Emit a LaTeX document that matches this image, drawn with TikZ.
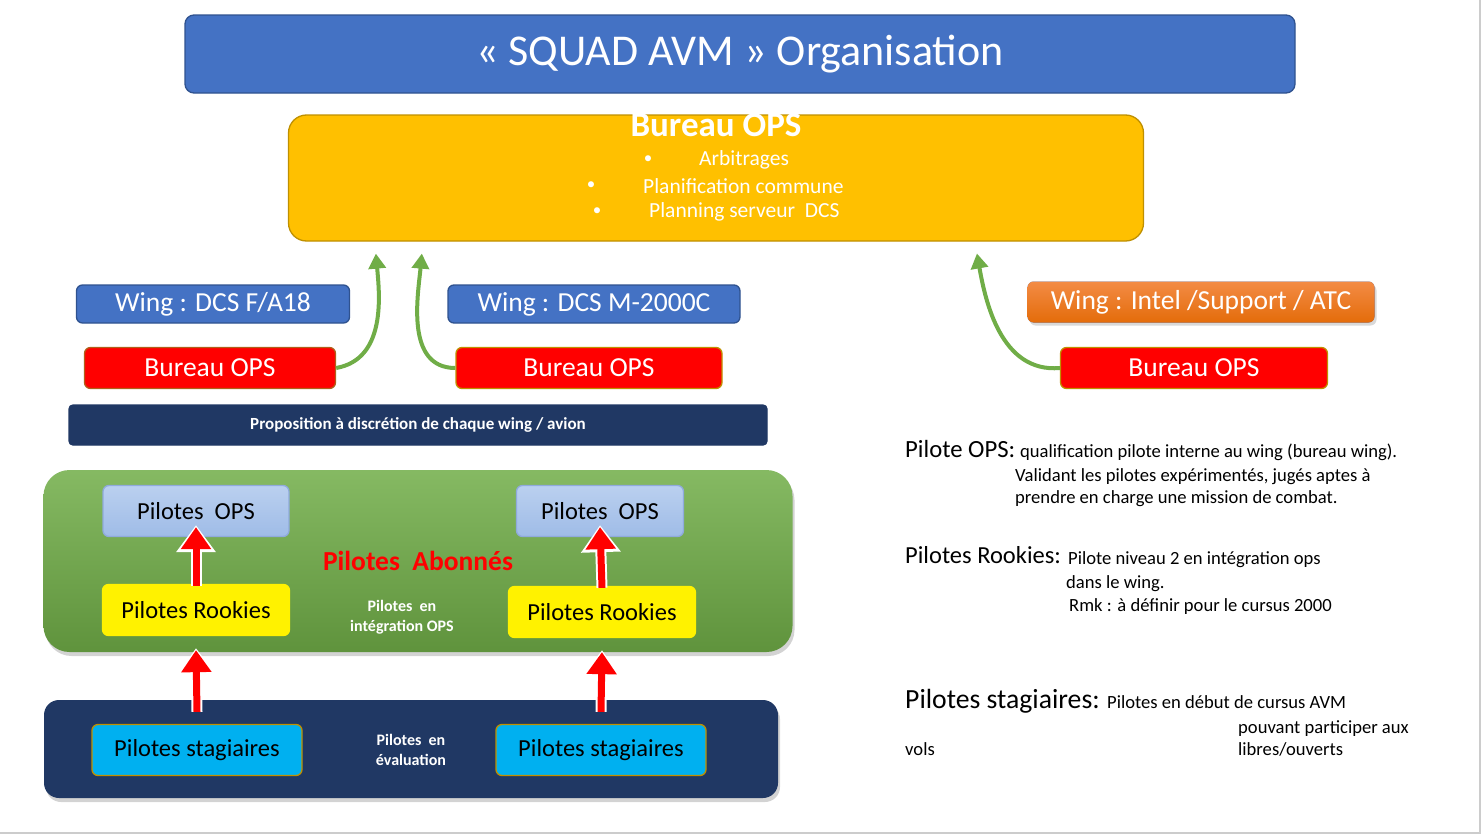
\documentclass[tikz,border=0pt]{standalone}
\usepackage{fontspec}
\setmainfont{Carlito}
\usetikzlibrary{positioning, arrows.meta, shadows}

\definecolor{titleblue}{HTML}{4472C4}
\definecolor{titleedge}{HTML}{2F528F}
\definecolor{opsyellow}{HTML}{FFC000}
\definecolor{opsedge}{HTML}{BF9000}
\definecolor{navy}{HTML}{203864}
\definecolor{leafgreen}{HTML}{70AD47}
\definecolor{rededge}{HTML}{B0601A}
\definecolor{skyblue}{HTML}{00B0F0}
\definecolor{paleblue}{HTML}{A9C4EB}
\definecolor{paleedge}{HTML}{8FAADC}
\definecolor{orangetop}{HTML}{F38B45}
\definecolor{orangebot}{HTML}{E46C0A}
\newcommand{\sz}[2]{\fontsize{#1}{#2}\selectfont}

\begin{document}
\begin{tikzpicture}[
        x=1pt, y=-1pt,
        box/.style={rounded corners=6pt, align=center, inner sep=0pt, line width=1.3pt},
        titlebox/.style={box, fill=titleblue, draw=titleedge, text=white, font=\sz{44}{50},
            minimum width=1110pt, minimum height=78pt, rounded corners=9pt},
        opsbox/.style={box, fill=opsyellow, draw=opsedge, minimum width=855pt,
            minimum height=126pt, rounded corners=18pt},
        wingbox/.style={box, fill=titleblue, draw=titleedge, text=white, font=\sz{27.5}{32},
            minimum height=38pt},
        bureaubox/.style={box, fill=red, draw=rededge, text=white, font=\sz{27.5}{32},
            minimum height=41pt},
        pilotops/.style={box, top color=paleblue!80!white, bottom color=paleblue!90!titleblue,
            draw=paleedge, font=\sz{24.5}{28}, minimum height=51pt},
        rookie/.style={box, fill=yellow, draw=yellow, font=\sz{24.5}{28}, minimum width=187pt,
            minimum height=51pt},
        trainee/.style={box, fill=skyblue, draw=opsedge, font=\sz{24.5}{28}, minimum width=210pt,
            minimum height=51pt},
        small/.style={text=white, font=\bfseries\sz{16}{20}, align=center},
        note/.style={anchor=base west, inner sep=0pt, font=\sz{18.6}{22}},
        head/.style={anchor=base west, inner sep=0pt},
        greenarrow/.style={draw=leafgreen, line width=4pt, shorten >=12pt,
            -{Triangle[width=17pt,length=15pt]}},
        uparrow/.style={draw=red, line width=7pt, shorten >=2pt,
            -{Triangle[width=29pt,length=22pt]},
            preaction={draw=white, line width=11pt, shorten >=0pt,
                -{Triangle[width=38pt,length=27pt]}}},
    ]
    \useasboundingbox (0,0) rectangle (1483,835);

    % Draw the title and the common bureau
    \node[titlebox] (title) at (740,54) {« SQUAD AVM » Organisation};
    \node[opsbox] (bops) at (716,178) {};
    \node[text=white, font=\bfseries\sz{35}{40}] (bops-head) at (716,125) {Bureau OPS};
    \foreach \bx/\tx/\y/\txt in {648/699/160/Arbitrages,
                                 591/643/186/Planification commune,
                                 597/649/212/Planning serveur~~DCS}
    {
        \node[text=white, font=\sz{17}{20}] (bul-\y) at (\bx,\y) {\textbullet};
        \node[text=white, font=\sz{21.5}{24}, anchor=west, inner sep=0pt] (item-\y) at (\tx,\y) {\txt};
    }

    % Draw the wings and their bureaus
    \node[wingbox, minimum width=273pt] (wing-fa) at (213,304) {Wing : DCS F/A18};
    \node[wingbox, minimum width=292pt] (wing-m) at (594,304) {Wing : DCS M-2000C};
    \node[wingbox, top color=orangetop, bottom color=orangebot,
        draw=none, minimum width=347pt, minimum height=41pt,
        drop shadow={opacity=0.3, shadow xshift=2pt, shadow yshift=-3pt}]
        (wing-int) at (1201,302) {Wing : Intel /Support / ATC};

    \node[bureaubox, minimum width=251pt] (bur-fa) at (210,368) {Bureau OPS};
    \node[bureaubox, draw=opsedge, minimum width=266pt] (bur-m) at (589,368) {Bureau OPS};
    \node[bureaubox, draw=opsedge, minimum width=267pt] (bur-int) at (1194,368) {Bureau OPS};

    % Connect every bureau with the common bureau
    \draw[greenarrow] (bur-fa.east) to[out=10, in=-85] ([xshift=87pt]bops.south west);
    \draw[greenarrow] (bur-m.west) to[out=180, in=-95] ([xshift=135pt]bops.south west);
    \draw[greenarrow] (bur-int.west) to[out=185, in=-80] ([xshift=687pt]bops.south west);

    \node[box, fill=navy, draw=navy, text=white, font=\bfseries\sz{17}{20}, minimum width=698pt,
        minimum height=40pt, rounded corners=4pt] (propose) at (418,425)
        {Proposition à discrétion de chaque wing / avion};

    % Draw the pilot groups
    \node[box, top color=leafgreen!85!white, bottom color=leafgreen!85!black, draw=none,
        minimum width=749pt, minimum height=182pt, rounded corners=26pt,
        drop shadow={opacity=0.35, shadow xshift=2pt, shadow yshift=-4pt}] (abonnes) at (418,561) {};
    \node[box, fill=navy, draw=none, minimum width=734pt, minimum height=98pt, rounded corners=15pt,
        drop shadow={opacity=0.35, shadow xshift=2pt, shadow yshift=-4pt}] (evaluation) at (411,749) {};

    \node[text=red, font=\bfseries\sz{27.5}{32}] (abonnes-lbl) at (418,561) {Pilotes~~Abonnés};
    \node[small] (integ) at (402,617) {Pilotes~~en\\intégration OPS};
    \node[small] (evalu) at (411,750) {Pilotes~~en\\évaluation};

    \foreach \name / \x / \dx / \w in {1/196/0/186, 2/600/4/167}
    {
        \node[pilotops, minimum width=\w pt] (ops-\name) at (\x,511) {Pilotes~~OPS};
        \node[rookie] (rook-\name) at (\x+\dx/2,610+\dx/2) {Pilotes Rookies};
        \node[trainee] (stag-\name) at (\x+1,750) {Pilotes stagiaires};
    }

    % Connect every level with the next one
    \foreach \name in {1,2}
    {
        \draw[uparrow] ([yshift=-2pt]rook-\name.north) -- ([yshift=12pt]ops-\name.south);
        \draw[uparrow] ([yshift=12pt]stag-\name.north) -- ([yshift=-12pt]rook-\name.south);
    }

    % Draw the notes
    \node[head, font=\sz{24.7}{28}] (n-ops) at (905,457) {Pilote OPS:};
    \node[note] (n-ops-1) at (1020,457) {qualification pilote interne au wing (bureau wing).};
    \node[note] (n-ops-2) at (1015,481) {Validant les pilotes expérimentés, jugés aptes à};
    \node[note] (n-ops-3) at (1015,503) {prendre en charge une mission de combat.};

    \node[head, font=\sz{24.5}{28}] (n-rook) at (905,563) {Pilotes Rookies:};
    \node[note] (n-rook-1) at (1068,564) {Pilote niveau 2 en intégration ops};
    \node[note] (n-rook-2) at (1066,588) {dans le wing.};
    \node[note] (n-rook-3) at (1069,611) {Rmk : à définir pour le cursus 2000};

    \node[head, font=\sz{27.7}{32}] (n-stag) at (905,708) {Pilotes stagiaires:};
    \node[note] (n-stag-1) at (1107,708) {Pilotes en début de cursus AVM};
    \node[note] (n-stag-2) at (1238,733) {pouvant participer aux};
    \node[note] (n-stag-3) at (905,755) {vols};
    \node[note] (n-stag-4) at (1238,755) {libres/ouverts};

    % Frame of the page
    \draw[black!20, line width=2pt] (1480,0) -- (1480,833) -- (0,833);
\end{tikzpicture}
\end{document}
